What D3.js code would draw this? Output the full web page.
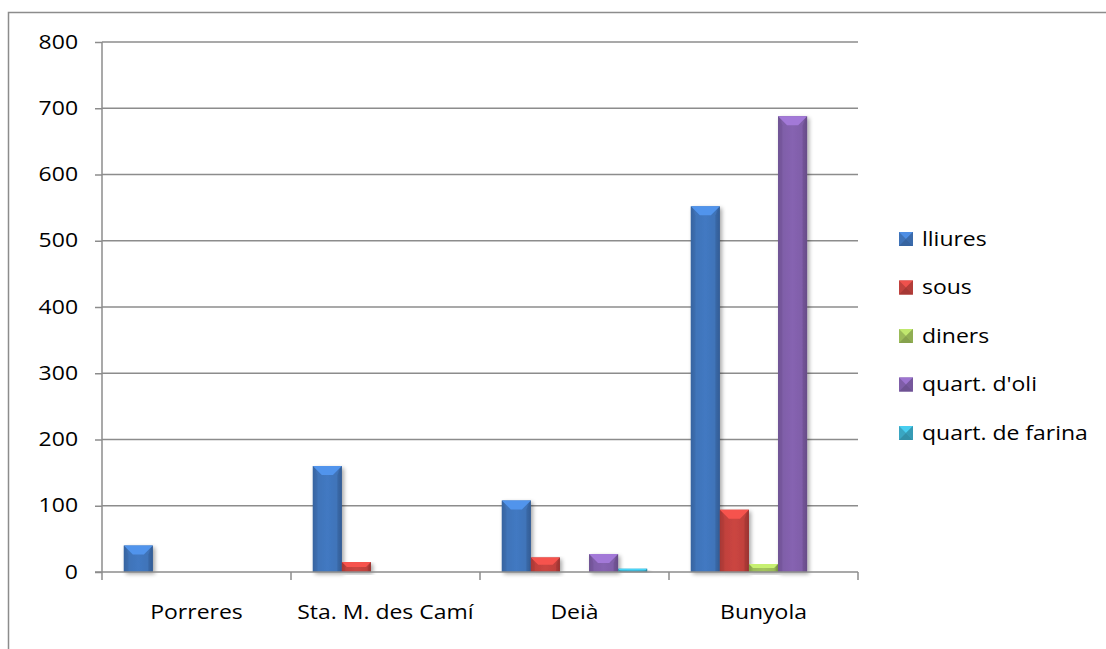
<!DOCTYPE html>
<html><head><meta charset="utf-8">
<script src="https://cdn.jsdelivr.net/npm/d3@7"></script>
<style>body{margin:0;background:#fff}svg{display:block}text{font-family:"Open Sans",Lato,sans-serif}</style>
</head><body><svg id="c" width="1106" height="649"></svg>
<script>
const categories = ["Porreres", "Sta. M. des Camí", "Deià", "Bunyola"];
const seriesNames = ["lliures", "sous", "diners", "quart. d'oli", "quart. de farina"];
const lliures = [40, 160, 108, 552];
const sous = [0, 15, 22, 94];
const diners = [0, 0, 0, 12];
const quartOli = [0, 0, 27, 688];
const quartFarina = [0, 0, 5, 0];
const yTicks = [0, 100, 200, 300, 400, 500, 600, 700, 800];
const colors = ["#3f73b8", "#c0413d", "#9bbb59", "#7f5ea8", "#3aa6c2"];
const seriesValues = [lliures, sous, diners, quartOli, quartFarina];

const svg = d3.select("#c");
const L = 102, R = 858, T = 42, B = 572;
const FS = 19.5;
svg.append("path").attr("d", `M8.5,649 L8.5,12.5 L1106,12.5`).attr("fill","none").attr("stroke","#8c8c8c").attr("stroke-width",1.5);

const y = d3.scaleLinear().domain([0, 800]).range([B, T]);
const x0 = d3.scaleBand().domain(categories).range([L, R]).paddingInner(0).paddingOuter(0);
const x1 = d3.scaleBand().domain(seriesNames).range([0, x0.bandwidth()]).paddingInner(0).paddingOuter(0.75);

const defs = svg.append("defs");
const f = defs.append("filter").attr("id","sh").attr("x","-20%").attr("y","-20%").attr("width","150%").attr("height","150%");
f.append("feGaussianBlur").attr("in","SourceAlpha").attr("stdDeviation",2);
f.append("feOffset").attr("dx",2).attr("dy",2).attr("result","ob");
f.append("feComponentTransfer").append("feFuncA").attr("type","linear").attr("slope",0.35);
const fm = f.append("feMerge"); fm.append("feMergeNode"); fm.append("feMergeNode").attr("in","SourceGraphic");

colors.forEach((c,i)=>{
  const g = defs.append("linearGradient").attr("id","g"+i).attr("x1","0").attr("x2","1").attr("y1","0").attr("y2","0");
  const base = d3.color(c);
  g.append("stop").attr("offset","0").attr("stop-color", base.darker(0.5));
  g.append("stop").attr("offset","0.15").attr("stop-color", base);
  g.append("stop").attr("offset","0.5").attr("stop-color", base.brighter(0.15));
  g.append("stop").attr("offset","0.85").attr("stop-color", base);
  g.append("stop").attr("offset","1").attr("stop-color", base.darker(0.6));
});

svg.append("g").selectAll("line").data(yTicks.filter(d=>d>0)).join("line")
  .attr("x1", L).attr("x2", R).attr("y1", d=>y(d)).attr("y2", d=>y(d))
  .attr("stroke","#8c8c8c").attr("stroke-width",1.5);

const bars = [];
categories.forEach((cat,ci)=>{
  seriesNames.forEach((s,si)=>{
    const v = seriesValues[si][ci];
    if (v > 0) bars.push({cat, s, si, v});
  });
});
const bg = svg.append("g");
bars.forEach(d=>{
  const bx = x0(d.cat) + x1(d.s), bw = x1.bandwidth();
  const by = y(d.v), bh = B - by;
  const g = bg.append("g").attr("filter","url(#sh)");
  g.append("rect").attr("x",bx).attr("y",by).attr("width",bw).attr("height",bh).attr("fill",`url(#g${d.si})`);
  const b = Math.min(9, bh/2, bw/3);
  const base = d3.color(colors[d.si]);
  g.append("polygon").attr("points",`${bx},${by} ${bx+bw},${by} ${bx+bw-b},${by+b} ${bx+b},${by+b}`)
    .attr("fill", base.brighter(0.7));
  g.append("polygon").attr("points",`${bx},${by} ${bx+b*0.5},${by+b} ${bx+b*0.5},${B} ${bx},${B}`).attr("fill", base.darker(0.3)).attr("opacity",0.5);
  g.append("polygon").attr("points",`${bx+bw},${by} ${bx+bw-b*0.5},${by+b} ${bx+bw-b*0.5},${B} ${bx+bw},${B}`).attr("fill", base.darker(0.6)).attr("opacity",0.5);
});

const yAxis = svg.append("g").attr("transform",`translate(${L},0)`)
  .call(d3.axisLeft(y).tickValues(yTicks).tickSize(7).tickPadding(17).tickFormat(d3.format("d")));
yAxis.select(".domain").attr("stroke","#8c8c8c").attr("stroke-width",1.5).attr("d",`M0,${T}V${B}`);
yAxis.selectAll(".tick line").attr("stroke","#8c8c8c").attr("stroke-width",1.5);
yAxis.selectAll("text").attr("font-size",FS).attr("fill","#000");

const xg = svg.append("g");
xg.append("line").attr("x1",L-7).attr("x2",R).attr("y1",B).attr("y2",B).attr("stroke","#8c8c8c").attr("stroke-width",1.5);
const bounds = categories.map(c=>x0(c)).concat([R]);
xg.selectAll("line.t").data(bounds).join("line").attr("class","t")
  .attr("x1",d=>d).attr("x2",d=>d).attr("y1",B).attr("y2",B+8).attr("stroke","#8c8c8c").attr("stroke-width",1.5);
xg.selectAll("text").data(categories).join("text")
  .attr("x",d=>x0(d)+x0.bandwidth()/2).attr("y",619).attr("text-anchor","middle")
  .attr("font-size",FS).attr("fill","#000").text(d=>d);

const lg = svg.append("g");
seriesNames.forEach((s,i)=>{
  const cy = 239 + i*48.5;
  const sz = 14, sx = 899, sy = cy - sz/2;
  const base = d3.color(colors[i]);
  const m = lg.append("g");
  m.append("rect").attr("x",sx).attr("y",sy).attr("width",sz).attr("height",sz).attr("fill",base);
  m.append("polygon").attr("points",`${sx},${sy} ${sx+sz},${sy} ${sx+sz/2},${sy+sz/2}`).attr("fill",base.brighter(0.6));
  m.append("polygon").attr("points",`${sx},${sy+sz} ${sx+sz},${sy+sz} ${sx+sz/2},${sy+sz/2}`).attr("fill",base.darker(0.4));
  m.append("polygon").attr("points",`${sx+sz},${sy} ${sx+sz},${sy+sz} ${sx+sz/2},${sy+sz/2}`).attr("fill",base.darker(0.2));
  lg.append("text").attr("x",922).attr("y",cy+7).attr("font-size",FS).attr("fill","#000").text(s);
});

// horizontal stretch of text to match reference glyph widths (anchor-preserving)
const probe = svg.append("text").attr("font-size",FS).text("quart. de farina");
const sxScale = 166 / probe.node().getComputedTextLength();
probe.remove();
svg.selectAll("text").each(function(){
  const t = d3.select(this);
  const anchor = t.attr("text-anchor") || (this.closest(".tick") ? "end" : "start");
  const bb = this.getBBox();
  const ax = anchor === "middle" ? bb.x + bb.width/2 : anchor === "end" ? bb.x + bb.width : bb.x;
  const prev = t.attr("transform") || "";
  t.attr("transform", `${prev} translate(${ax},0) scale(${sxScale},1) translate(${-ax},0)`);
});
</script></body></html>
